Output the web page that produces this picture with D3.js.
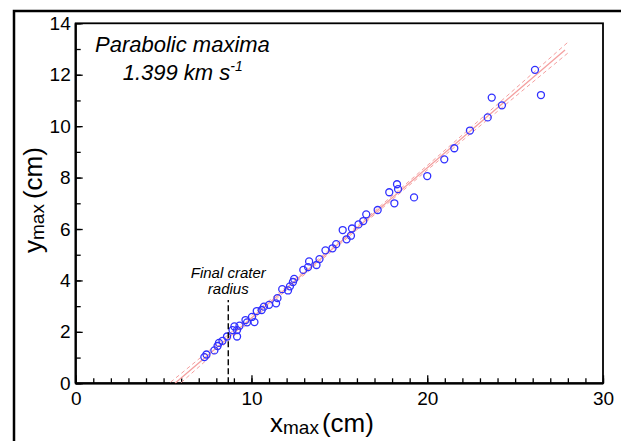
<!DOCTYPE html>
<html>
<head>
<meta charset="utf-8">
<script src="https://cdn.jsdelivr.net/npm/d3@7"></script>
<style>
  body { margin: 0; background: #fff; }
  svg { display: block; font-family: 'Liberation Sans', Arial, sans-serif; }
  .axis text { font-size: 19px; fill: #000; }
  .axis line { stroke: #000; stroke-width: 1.3; }
</style>
</head>
<body>
<div class="crater-chart"><svg></svg></div>
<script>
// measured points (x_max, y_max) in cm
const xMax = [7.32, 7.44, 7.89, 8.07, 8.15, 8.35, 8.61, 8.92, 9.03, 9.18, 9.18, 9.32,
    9.66, 9.75, 10.03, 10.17, 10.30, 10.58, 10.71, 11.0, 11.40, 11.48, 11.75, 12.08,
    12.19, 12.36, 12.43, 12.95, 13.22, 13.28, 13.70, 13.87, 14.21, 14.61, 14.82, 15.19,
    15.41, 15.66, 15.72, 16.09, 16.36, 16.53, 17.18, 17.84, 18.13, 18.28, 18.34, 19.25,
    20.00, 20.97, 21.54, 22.43, 23.44, 23.67, 24.25, 26.13, 26.47];
const yMax = [1.02, 1.12, 1.28, 1.45, 1.57, 1.65, 1.82, 2.07, 2.21, 2.07, 1.82, 2.24,
    2.46, 2.37, 2.58, 2.38, 2.81, 2.85, 2.98, 3.05, 3.11, 3.31, 3.66, 3.61,
    3.77, 3.94, 4.06, 4.41, 4.52, 4.74, 4.60, 4.83, 5.17, 5.25, 5.41, 5.96,
    5.60, 5.74, 6.02, 6.18, 6.31, 6.57, 6.74, 7.43, 7.00, 7.74, 7.55, 7.23,
    8.06, 8.71, 9.14, 9.83, 10.34, 11.11, 10.81, 12.19, 11.21];

// linear fit and its confidence band
const fitSlope = 0.584;
const fitIntercept = -3.30;
const fitRange = [5.65, 27.84];
const bandX = [5.4, 10, 16, 22, 28];
const bandHalf = [0.19, 0.10, 0.07, 0.11, 0.21];

const craterRadius = 8.68;
const craterTop = 3.24;

const xMajor = [0, 10, 20, 30];
const xMinor = d3.range(0, 31, 1);
const yMajor = [0, 2, 4, 6, 8, 10, 12, 14];
const yMinor = d3.range(0, 15, 1);

const chart = () => {
    const W = 621;
    const H = 441;
    const margin = { top: 23.3, right: 18, bottom: 57.7, left: 75.7 };
    const width = W - margin.left - margin.right;
    const height = H - margin.top - margin.bottom;

    const svg = d3.select('.crater-chart svg').attr('width', W).attr('height', H);

    // outer frame (cut off on the right and bottom)
    svg.append('rect')
        .attr('x', 14).attr('y', 11)
        .attr('width', 800).attr('height', 600)
        .attr('fill', 'none').attr('stroke', '#000').attr('stroke-width', 2.5);

    const x = d3.scaleLinear().domain([0, 30]).range([0, width]);
    const y = d3.scaleLinear().domain([0, 14]).range([height, 0]);

    const g = svg.append('g').attr('transform', `translate(${margin.left},${margin.top})`);

    g.append('clipPath').attr('id', 'plot-clip')
        .append('rect').attr('width', width).attr('height', height);

    // axes: minor ticks first, then labelled major ticks
    g.append('g').attr('class', 'axis')
        .attr('transform', `translate(0,${height})`)
        .call(d3.axisBottom(x).tickValues(xMinor).tickFormat('').tickSizeInner(-5).tickSizeOuter(0));
    g.append('g').attr('class', 'axis')
        .attr('transform', `translate(0,${height})`)
        .call(d3.axisBottom(x).tickValues(xMajor).tickFormat(d3.format('d')).tickSizeInner(-8).tickSizeOuter(0).tickPadding(8));
    g.append('g').attr('class', 'axis')
        .call(d3.axisLeft(y).tickValues(yMinor).tickFormat('').tickSizeInner(-5).tickSizeOuter(0));
    g.append('g').attr('class', 'axis')
        .call(d3.axisLeft(y).tickValues(yMajor).tickFormat(d3.format('d')).tickSizeInner(-7).tickSizeOuter(0).tickPadding(5));
    g.selectAll('.axis .domain').remove();

    g.append('rect')
        .attr('width', width).attr('height', height)
        .attr('fill', 'none').attr('stroke', '#000').attr('stroke-width', 1.8);
    g.append('line').attr('x1', 0).attr('x2', 0).attr('y1', 0).attr('y2', height)
        .attr('stroke', '#000').attr('stroke-width', 2.2);
    g.append('line').attr('x1', 0).attr('x2', width).attr('y1', height).attr('y2', height)
        .attr('stroke', '#000').attr('stroke-width', 2.2);

    // fit line and dashed band
    const fit = (v) => fitSlope * v + fitIntercept;
    const line = d3.line().x((d) => x(d[0])).y((d) => y(d[1]));
    const fitG = g.append('g').attr('clip-path', 'url(#plot-clip)');

    fitG.append('path')
        .datum(fitRange.map((v) => [v, fit(v)]))
        .attr('d', line)
        .attr('fill', 'none').attr('stroke', '#f4a0a0').attr('stroke-width', 1.3);

    [1, -1].forEach((s) => {
        fitG.append('path')
            .datum(bandX.map((v, i) => [v, fit(v) + s * bandHalf[i]]))
            .attr('d', line.curve(d3.curveMonotoneX))
            .attr('fill', 'none').attr('stroke', '#f4a0a0').attr('stroke-width', 1)
            .attr('stroke-dasharray', '4,3');
    });

    // data points
    g.append('g').selectAll('circle')
        .data(xMax.map((v, i) => [v, yMax[i]]))
        .enter()
        .append('circle')
        .attr('cx', (d) => x(d[0]))
        .attr('cy', (d) => y(d[1]))
        .attr('r', 3.5)
        .attr('fill', 'none').attr('stroke', '#3030ff').attr('stroke-width', 1.3);

    // final crater radius marker
    g.append('line')
        .attr('x1', x(craterRadius)).attr('x2', x(craterRadius))
        .attr('y1', y(0)).attr('y2', y(craterTop))
        .attr('stroke', '#000').attr('stroke-width', 1.4).attr('stroke-dasharray', '6,3');
    const lbl = g.append('text')
        .attr('text-anchor', 'middle')
        .attr('font-style', 'italic').attr('font-size', 15);
    lbl.append('tspan').attr('x', x(craterRadius)).attr('y', y(craterTop) - 22).text('Final crater');
    lbl.append('tspan').attr('x', x(craterRadius)).attr('y', y(craterTop) - 6).text('radius');

    // annotation
    g.append('text').attr('x', 19.3).attr('y', 29).attr('font-size', 22).attr('font-style', 'italic')
        .text('Parabolic maxima');
    const sp = g.append('text').attr('x', 47).attr('y', 56.7).attr('font-size', 22).attr('font-style', 'italic');
    sp.append('tspan').text('1.399 km s');
    sp.append('tspan').attr('font-size', 14).attr('dy', -9).text('-1');

    // axis titles
    const xt = svg.append('text').attr('x', 270).attr('y', 432).attr('font-size', 26);
    xt.append('tspan').text('x');
    xt.append('tspan').attr('font-size', 19).attr('dy', 2).text('max');
    xt.append('tspan').attr('dy', -2).attr('dx', 3).text('(cm)');

    const yt = svg.append('text').attr('transform', 'translate(42,253) rotate(-90)').attr('font-size', 26);
    yt.append('tspan').text('y');
    yt.append('tspan').attr('font-size', 19).attr('dy', 2).text('max');
    yt.append('tspan').attr('dy', -2).attr('dx', 5).text('(cm)');
};

chart();
</script>
</body>
</html>
